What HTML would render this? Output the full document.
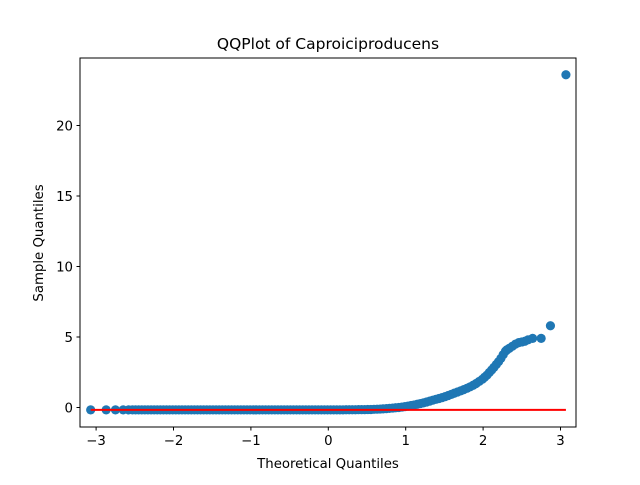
<!DOCTYPE html>
<html><head><meta charset="utf-8"><style>
body{margin:0;background:#fff;font-family:"Liberation Sans","DejaVu Sans",sans-serif}
</style></head><body>
<svg width="640" height="480" xmlns="http://www.w3.org/2000/svg" font-family="DejaVu Sans, Liberation Sans, sans-serif">
<rect width="640" height="480" fill="#fff"/>
<g id="marks"></g>
<rect x="80" y="58" width="496" height="369" fill="none" stroke="#000" stroke-width="1"/>
<g id="xt"></g>
<g id="yt"></g>
<text x="328" y="49" text-anchor="middle" font-size="15.5">QQPlot of Caproiciproducens</text>
<text x="328" y="468" text-anchor="middle" font-size="13.3">Theoretical Quantiles</text>
<text x="43" y="243" text-anchor="middle" font-size="13.3" transform="rotate(-90 43 243)">Sample Quantiles</text>
</svg>
<script>
const xTicks=[-3,-2,-1,0,1,2,3];
const yTicks=[0,5,10,15,20];
const theo=[-3.07,-2.87,-2.75,-2.65,-2.58,-2.53,-2.49,-2.45,-2.41,-2.37,-2.33,-2.29,-2.25,-2.21,-2.17,-2.13,-2.09,-2.05,-2.01,-1.97,-1.93,-1.89,-1.85,-1.81,-1.77,-1.73,-1.69,-1.65,-1.61,-1.57,-1.53,-1.49,-1.45,-1.41,-1.37,-1.33,-1.29,-1.25,-1.21,-1.17,-1.13,-1.09,-1.05,-1.01,-0.97,-0.93,-0.89,-0.85,-0.81,-0.77,-0.73,-0.69,-0.65,-0.61,-0.57,-0.53,-0.49,-0.45,-0.41,-0.37,-0.33,-0.29,-0.25,-0.21,-0.17,-0.13,-0.09,-0.05,-0.01,0.03,0.07,0.11,0.15,0.19,0.23,0.27,0.31,0.35,0.39,0.43,0.47,0.51,0.55,0.59,0.63,0.67,0.71,0.75,0.79,0.83,0.87,0.91,0.95,0.99,1.03,1.07,1.11,1.15,1.19,1.23,1.27,1.31,1.35,1.39,1.43,1.47,1.51,1.55,1.59,1.63,1.67,1.71,1.75,1.79,1.83,1.87,1.91,1.95,1.99,2.02,2.05,2.08,2.11,2.14,2.17,2.20,2.23,2.26,2.29,2.31,2.34,2.38,2.42,2.46,2.50,2.54,2.58,2.64,2.75,2.87,3.07];
const sample=[-0.17,-0.17,-0.17,-0.17,-0.17,-0.17,-0.17,-0.17,-0.17,-0.17,-0.17,-0.17,-0.17,-0.17,-0.17,-0.17,-0.17,-0.17,-0.17,-0.17,-0.17,-0.17,-0.17,-0.17,-0.17,-0.17,-0.17,-0.17,-0.17,-0.17,-0.17,-0.17,-0.17,-0.17,-0.17,-0.17,-0.17,-0.17,-0.17,-0.17,-0.17,-0.17,-0.17,-0.17,-0.17,-0.17,-0.17,-0.17,-0.17,-0.17,-0.17,-0.17,-0.17,-0.17,-0.17,-0.17,-0.17,-0.17,-0.17,-0.17,-0.17,-0.17,-0.17,-0.17,-0.17,-0.17,-0.17,-0.17,-0.17,-0.17,-0.17,-0.17,-0.17,-0.17,-0.16,-0.16,-0.16,-0.16,-0.15,-0.15,-0.15,-0.14,-0.14,-0.13,-0.12,-0.11,-0.10,-0.08,-0.06,-0.04,-0.02,0.0,0.03,0.06,0.1,0.14,0.18,0.23,0.28,0.33,0.39,0.45,0.52,0.58,0.64,0.7,0.77,0.85,0.93,1.02,1.1,1.18,1.27,1.36,1.46,1.57,1.7,1.85,2.0,2.15,2.3,2.48,2.66,2.85,3.05,3.25,3.48,3.75,4.0,4.1,4.2,4.35,4.5,4.6,4.65,4.7,4.8,4.9,4.9,5.8,23.6];
const lineX=[-3.07,3.07];
const lineY=[-0.17,-0.17];
const ns="http://www.w3.org/2000/svg";
const X=v=>328.3+v*77.4, Y=v=>407.5-v*14.1;
const m=document.getElementById('marks');
theo.forEach((t,i)=>{
 const c=document.createElementNS(ns,'circle');
 c.setAttribute('cx',X(t));c.setAttribute('cy',Y(sample[i]));c.setAttribute('r',4.6);c.setAttribute('fill','#1f77b4');
 
 
 m.appendChild(c);
});
const l=document.createElementNS(ns,'line');
l.setAttribute('x1',X(lineX[0]));l.setAttribute('x2',X(lineX[1]));l.setAttribute('y1',Y(lineY[0]));l.setAttribute('y2',Y(lineY[1]));
l.setAttribute('stroke','red');l.setAttribute('stroke-width',2);


m.appendChild(l);
const xt=document.getElementById('xt');
xTicks.forEach(v=>{
 const g=document.createElementNS(ns,'g');
 
 
 g.innerHTML=`<line x1="${X(v)}" x2="${X(v)}" y1="427" y2="430.5" stroke="#000"/><text x="${X(v)}" y="445" text-anchor="middle" font-size="13.3">${v<0?'\u2212'+(-v):v}</text>`;
 xt.appendChild(g);
});
const yt=document.getElementById('yt');
yTicks.forEach(v=>{
 const g=document.createElementNS(ns,'g');
 
 
 g.innerHTML=`<line x1="76.5" x2="80" y1="${Y(v)}" y2="${Y(v)}" stroke="#000"/><text x="73" y="${Y(v)+4.8}" text-anchor="end" font-size="13.3">${v}</text>`;
 yt.appendChild(g);
});
</script>
</body></html>
